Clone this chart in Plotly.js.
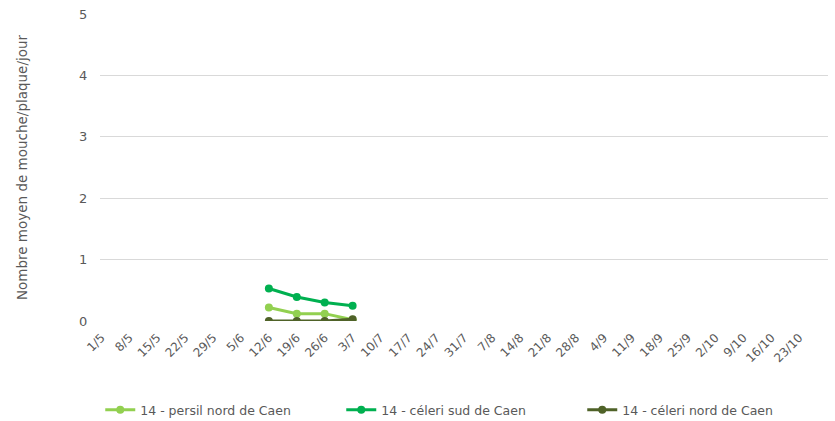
<!DOCTYPE html>
<html>
<head>
<meta charset="utf-8">
<script src="https://cdn.plot.ly/plotly-3.0.1.min.js"></script>
<style>html,body{margin:0;padding:0;background:#fff;}#chart{width:835px;height:421px;}</style>
</head>
<body>
<div id="chart"></div>
<script>
const categories = ["1/5","8/5","15/5","22/5","29/5","5/6","12/6","19/6","26/6","3/7","10/7","17/7","24/7","31/7","7/8","14/8","21/8","28/8","4/9","11/9","18/9","25/9","2/10","9/10","16/10","23/10"];
const seriesNames = ["14 - persil nord de Caen","14 - céleri sud de Caen","14 - céleri nord de Caen"];
const persilNord = [null,null,null,null,null,null,0.22,0.12,0.12,0.02,null,null,null,null,null,null,null,null,null,null,null,null,null,null,null,null];
const celeriSud  = [null,null,null,null,null,null,0.53,0.39,0.30,0.25,null,null,null,null,null,null,null,null,null,null,null,null,null,null,null,null];
const celeriNord = [null,null,null,null,null,null,0,0,0,0.03,null,null,null,null,null,null,null,null,null,null,null,null,null,null,null,null];
const colors = ["#92D050","#00B050","#4F6228"];
const yTicks = [0,1,2,3,4,5];

const data = [persilNord, celeriSud, celeriNord].map((ys, i) => ({
  type: "scatter",
  mode: "lines+markers",
  x: categories,
  y: ys,
  name: seriesNames[i],
  line: {color: colors[i], width: 3},
  marker: {color: colors[i], size: 8},
  connectgaps: false
}));

const layout = {
  width: 835, height: 421,
  margin: {l: 100, r: 7, t: 14, b: 100, autoexpand: false},
  paper_bgcolor: "#fff", plot_bgcolor: "#fff",
  font: {family: "DejaVu Sans, Verdana, sans-serif", size: 12, color: "#595959"},
  showlegend: true,
  legend: {orientation: "h", xref: "container", x: 0.553, xanchor: "center", yref: "container", y: 0.026, yanchor: "middle",
           font: {size: 12.5, color: "#595959"}, itemwidth: 30, entrywidth: 196, entrywidthmode: "pixels"},
  xaxis: {
    type: "category",
    categoryorder: "array", categoryarray: categories,
    range: [-0.05, 26.03],
    tickangle: -45,
    showgrid: false, zeroline: false, showline: false,
    ticks: "outside", ticklen: 4, tickcolor: "rgba(0,0,0,0)",
    tickfont: {size: 12, color: "#595959"}
  },
  yaxis: {
    range: [0, 5],
    tickvals: yTicks,
    showgrid: true, gridcolor: "#D9D9D9", gridwidth: 1,
    zeroline: false, showline: false,
    ticks: "outside", ticklen: 9, tickcolor: "rgba(0,0,0,0)",
    tickfont: {size: 13, color: "#595959"},
    title: {text: "Nombre moyen de mouche/plaque/jour", font: {size: 13.5, color: "#595959"}, standoff: 48}
  }
};
Plotly.newPlot("chart", data, layout, {displayModeBar: false, staticPlot: true});
</script>
</body>
</html>
